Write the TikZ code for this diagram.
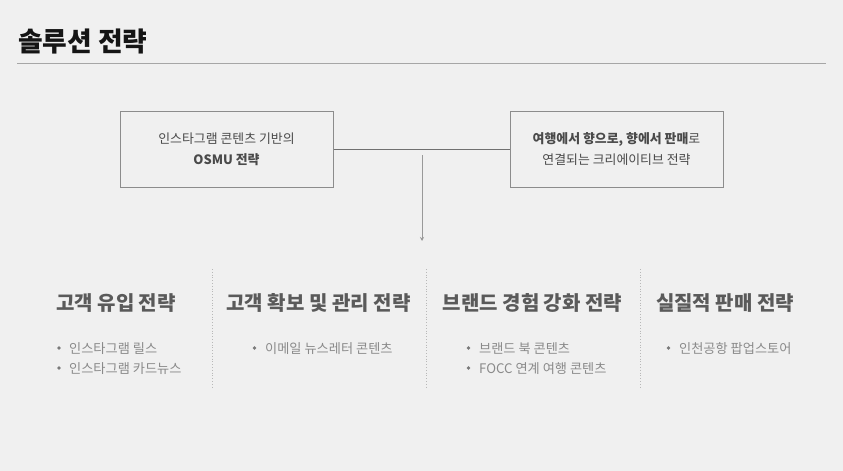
\documentclass[tikz,border=0pt]{standalone}
\usepackage{fontspec}
\setmainfont{Noto Sans CJK KR}
\usetikzlibrary{arrows.meta}
\definecolor{bg}{HTML}{F0F0F0}
\definecolor{titlec}{HTML}{151515}
\definecolor{boxline}{HTML}{8C8C8C}
\definecolor{boxtext}{HTML}{4A4A4A}
\definecolor{headc}{HTML}{5A5A5A}
\definecolor{itemc}{HTML}{8A8A8A}
\definecolor{dotc}{HTML}{7A7A7A}
\definecolor{connc}{HTML}{707070}
\tikzset{
  stratbox/.style={draw=boxline, line width=1pt, minimum width=213pt, minimum height=76pt, inner sep=0pt, align=center, text=boxtext, font=\fontsize{12.9}{21}\selectfont},
  heading/.style={anchor=base, text=headc, font=\fontsize{20}{24}\selectfont\bfseries, inner sep=0pt},
  item/.style={anchor=base west, text=itemc, font=\fontsize{13.2}{15}\selectfont, inner sep=0pt},
  dot/.style={circle, fill=dotc, inner sep=0pt, minimum size=3.6pt},
  divider/.style={draw=black!28, line width=0.8pt, dotted},
}
\begin{document}
\begin{tikzpicture}[x=1pt,y=-1pt]
\fill[bg] (0,0) rectangle (843,471);
\useasboundingbox (0,0) rectangle (843,471);
% title
\node[anchor=base west, inner sep=0pt, text=titlec, font=\fontsize{26.8}{30}\selectfont\bfseries] (title) at (18,51) {솔루션 전략};
\draw[black!35, line width=0.9pt] (17,63.5) coordinate (ruleL) -- (826,63.5) coordinate (ruleR);
% boxes
\node[stratbox] (lbox) at (226.5,149) {인스타그램 콘텐츠 기반의\\\textbf{OSMU 전략}};
\node[stratbox] (rbox) at (616.5,149) {\textbf{여행에서 향으로, 향에서 판매}로\\연결되는 크리에이티브 전략};
\draw[connc, line width=0.9pt] (lbox.east) -- (rbox.west);
\coordinate (arrS) at (422,155);
\coordinate (arrE) at (422,241);
\draw[black!40, line width=1pt, -{Stealth[length=4pt,width=4pt]}] (arrS) -- (arrE);
% dividers
\foreach \x/\n in {212/a,426/b,640/c}{
  \draw[divider] (\x,269) coordinate (d\n1) -- (\x,389) coordinate (d\n2);
}
% headings
\node[heading] (h1) at (116,310) {고객 유입 전략};
\node[heading] (h2) at (318.5,310) {고객 확보 및 관리 전략};
\node[heading] (h3) at (532.5,310) {브랜드 경험 강화 전략};
\node[heading] (h4) at (725,310) {실질적 판매 전략};
% items
\node[dot] (b11) at (59,348) {};
\node[item] (i11) at (69,353) {인스타그램 릴스};
\node[dot] (b12) at (59,368) {};
\node[item] (i12) at (69,373) {인스타그램 카드뉴스};
\node[dot] (b21) at (254.5,348) {};
\node[item] (i21) at (265,353) {이메일 뉴스레터 콘텐츠};
\node[dot] (b31) at (468.5,348) {};
\node[item] (i31) at (479,353) {브랜드 북 콘텐츠};
\node[dot] (b32) at (468.5,368) {};
\node[item] (i32) at (479,373) {FOCC 연계 여행 콘텐츠};
\node[dot] (b41) at (668.5,348) {};
\node[item] (i41) at (679,353) {인천공항 팝업스토어};
\end{tikzpicture}
\end{document}
